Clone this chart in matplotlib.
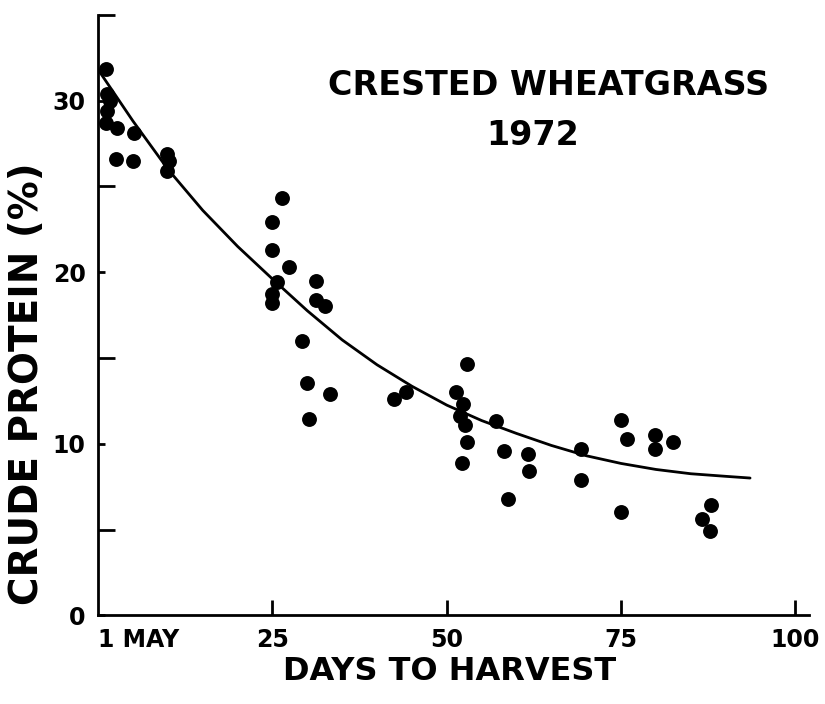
import numpy as np
import matplotlib.pyplot as plt

# measured points (days after 1 May, crude protein %)
days = [1.15, 1.3, 1.7, 1.3, 1.15, 2.7, 5.2, 2.6, 5.0, 9.9, 10.2, 9.8,
        26.3, 25.0, 25.0, 27.3, 25.6, 25.0, 25.0, 31.3, 31.3, 32.5,
        29.3, 29.9, 33.2, 30.2,
        42.4, 44.2, 52.9, 51.3, 52.3, 51.9, 52.6, 52.9, 52.2,
        57.0, 58.2, 61.6, 61.8, 58.8, 69.3, 69.3,
        75.0, 75.9, 79.9, 79.9, 82.5, 75.0, 87.9, 86.6, 87.8]
protein = [31.85, 30.4, 30.0, 29.4, 28.7, 28.4, 28.1, 26.6, 26.45, 26.9, 26.5, 25.9,
           24.3, 22.9, 21.3, 20.3, 19.4, 18.7, 18.2, 19.5, 18.4, 18.0,
           16.0, 13.55, 12.9, 11.45,
           12.6, 13.0, 14.65, 13.0, 12.3, 11.6, 11.1, 10.1, 8.9,
           11.35, 9.6, 9.4, 8.4, 6.8, 9.7, 7.9,
           11.4, 10.3, 10.5, 9.7, 10.1, 6.0, 6.4, 5.6, 4.9]

# fitted curve
curve_days = [0, 5, 10, 15, 20, 25, 30, 35, 40, 45, 50, 55, 60, 65, 70, 75, 80, 85, 90, 93.5]
curve_vals = [31.8, 28.8, 26.0, 23.6, 21.5, 19.6, 17.75, 16.05, 14.6, 13.35, 12.25, 11.35,
              10.6, 9.9, 9.3, 8.85, 8.5, 8.25, 8.1, 8.0]

plt.rcParams['font.family'] = ['DejaVu Sans']
plt.rcParams['font.weight'] = 'bold'

fig = plt.figure(figsize=(8.25, 7.04), dpi=100)
ax = fig.add_axes([0.119, 0.126, 0.862, 0.853])

ax.plot(curve_days, curve_vals, color='black', lw=2.0, solid_capstyle='round')
ax.scatter(days, protein, s=115, color='black', zorder=3, linewidths=0)

ax.set_xlim(0, 102)
ax.set_ylim(0, 34.7)

for s in ['top', 'right']:
    ax.spines[s].set_visible(False)
for s in ['left', 'bottom']:
    ax.spines[s].set_linewidth(2.0)

ax.set_xticks([0, 25, 50, 75, 100])
ax.set_xticklabels(['1 MAY', '25', '50', '75', '100'], fontsize=17, fontweight='bold')
ax.tick_params(axis='x', direction='in', length=11, width=2, pad=9)
ax.xaxis.get_major_ticks()[0].tick1line.set_visible(False)
ax.get_xticklabels()[0].set_ha('left')

ax.set_yticks([0, 10, 20, 30])
ax.set_yticklabels(['0', '10', '20', '30'], fontsize=17, fontweight='bold')
ax.set_yticks([5, 15, 25, 35], minor=True)
ax.tick_params(axis='y', which='major', direction='in', length=5, width=2, pad=9)
ax.tick_params(axis='y', which='minor', direction='in', length=12, width=2)

fig.text(0.545, 0.046, 'DAYS TO HARVEST', ha='center', va='center', fontsize=23, fontweight='bold')
fig.text(0.033, 0.455, 'CRUDE PROTEIN (%)', ha='center', va='center', rotation=90,
         fontsize=28, fontweight='bold')

fig.text(0.665, 0.878, 'CRESTED WHEATGRASS', ha='center', va='center', fontsize=24, fontweight='bold')
fig.text(0.645, 0.807, '1972', ha='center', va='center', fontsize=24, fontweight='bold')

fig.savefig('out.png', dpi=100, facecolor='white')
